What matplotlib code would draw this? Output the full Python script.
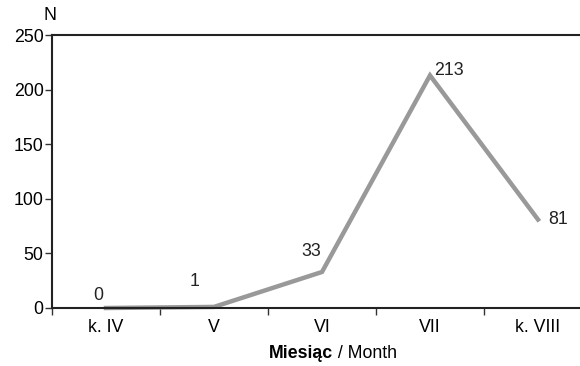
import matplotlib
matplotlib.use("Agg")
import matplotlib.pyplot as plt
import numpy as np

# data
months = ["k. IV", "V", "VI", "VII", "k. VIII"]
counts = [0, 1, 33, 213, 81]
# label offsets in pixels (dx, dy) for the value labels
label_offsets = [(-8, 13), (-19, 25), (-11, 20), (19, 5), (20, 0)]

plt.rcParams["font.family"] = ["Liberation Sans", "DejaVu Sans"]
plt.rcParams["font.size"] = 12.8

fig = plt.figure(figsize=(5.8, 3.66), dpi=100)
# axes runs past the right edge, as in the original crop
ax = fig.add_axes([52 / 580, 1 - 308 / 366, 540 / 580, 273 / 366])

x = np.arange(len(months))
ax.plot(x, counts, color="#999999", linewidth=3.2, solid_joinstyle="miter", clip_on=False)

for xi, v, (dx, dy) in zip(x, counts, label_offsets):
    ax.annotate(str(v), (xi, v), xytext=(dx, dy), textcoords="offset pixels",
                ha="center", va="center", color="#222222")

ax.set_xlim(-0.5, len(months) - 0.5)
ax.set_ylim(0, 250)
ax.set_yticks(np.arange(0, 251, 50))

# category labels centred, ticks on category boundaries
ax.set_xticks(x)
ax.set_xticklabels(months)
ax.set_xticks(np.arange(-0.5, len(months), 1), minor=True)
ax.tick_params(axis="x", which="major", length=0, pad=8)
ax.tick_params(axis="x", which="minor", length=5, width=1, color="#333333")
ax.tick_params(axis="y", length=5, width=1, color="#333333", pad=1)

for side in ["left", "bottom", "top"]:
    ax.spines[side].set_linewidth(1.5)
    ax.spines[side].set_color("#222222")
ax.spines["right"].set_visible(False)

fig.text(50 / 580, 1 - 15 / 366, "N", ha="center", va="center")

# axis title: bold Polish part + regular English part
fig.text(333 / 580, 1 - 354 / 366, "Miesiąc", ha="right", va="center", fontweight="bold")
fig.text(333 / 580, 1 - 354 / 366, " / Month", ha="left", va="center")

fig.savefig("out.png", dpi=100)
